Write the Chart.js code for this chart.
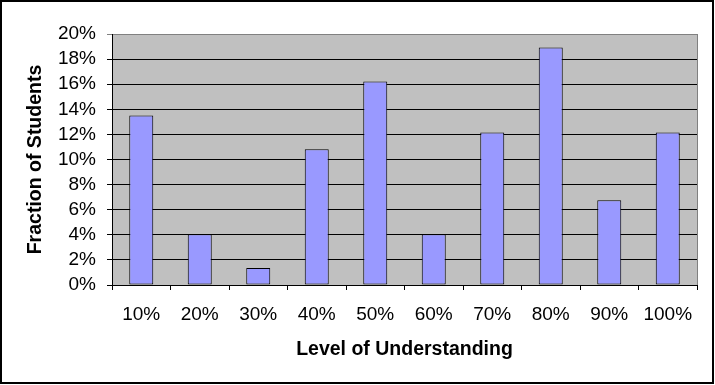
<!DOCTYPE html>
<html>
<head>
<meta charset="utf-8">
<script src="https://cdn.jsdelivr.net/npm/chart.js@4/dist/chart.umd.min.js"></script>
<style>
  html, body { margin: 0; padding: 0; background: #fff; }
  canvas { display: block; }
</style>
</head>
<body>
<canvas id="chartUnderstanding" width="715" height="385"></canvas>
<script>
const levels = ['10%', '20%', '30%', '40%', '50%', '60%', '70%', '80%', '90%', '100%'];
const fractions = [13.51, 4.05, 1.35, 10.81, 16.22, 4.05, 12.16, 18.92, 6.76, 12.16];
const yTicks = [0, 2, 4, 6, 8, 10, 12, 14, 16, 18, 20];

const fontFamily = "'Liberation Sans', Arial, sans-serif";

// white page, grey plot area, black frame round the picture
const excelLook = {
  id: 'excelLook',
  beforeDraw(chart) {
    const { ctx, chartArea: a } = chart;
    ctx.save();
    ctx.fillStyle = '#fff';
    ctx.fillRect(0, 0, chart.width, chart.height);
    ctx.fillStyle = '#c0c0c0';
    ctx.fillRect(a.left, a.top, a.right - a.left, a.bottom - a.top);
    ctx.restore();
  },
  afterDraw(chart) {
    const { ctx, chartArea: a } = chart;
    ctx.save();
    ctx.strokeStyle = '#808080';
    ctx.lineWidth = 1;
    ctx.beginPath();
    ctx.moveTo(Math.round(a.right) + 0.5, a.top);
    ctx.lineTo(Math.round(a.right) + 0.5, a.bottom);
    ctx.stroke();
    ctx.strokeStyle = '#000';
    ctx.lineWidth = 2;
    ctx.strokeRect(1, 1, 712, 382);
    ctx.restore();
  }
};

new Chart(document.getElementById('chartUnderstanding'), {
  type: 'bar',
  data: {
    labels: levels,
    datasets: [{
      label: 'Fraction of Students',
      data: fractions,
      backgroundColor: '#9999ff',
      borderColor: '#000',
      borderWidth: 1,
      borderSkipped: false,
      barPercentage: 0.41,
      categoryPercentage: 1
    }]
  },
  options: {
    responsive: false,
    animation: false,
    layout: { padding: { top: 34, right: 18, left: 0, bottom: 0 } },
    plugins: { legend: { display: false }, tooltip: { enabled: false } },
    scales: {
      x: {
        afterFit: s => { s.height = 100; },
        grid: { drawOnChartArea: false, offset: true, tickLength: 5, color: '#000' },
        border: { color: '#000', width: 1 },
        ticks: { color: '#000', padding: 13, maxRotation: 0, autoSkip: false, font: { family: fontFamily, size: 19 } },
        title: {
          display: true,
          text: 'Level of Understanding',
          color: '#000',
          padding: { top: 24, bottom: 24 },
          font: { family: fontFamily, size: 19.5, weight: 'bold' }
        }
      },
      y: {
        min: 0,
        max: 20,
        afterFit: s => { s.width = 112; },
        afterBuildTicks: s => { s.ticks = yTicks.map(v => ({ value: v })); },
        grid: {
          tickLength: 5,
          color: c => (c.tick && c.tick.value === 20 ? '#808080' : '#000')
        },
        border: { color: '#000', width: 1 },
        ticks: {
          color: '#000',
          padding: 11,
          autoSkip: false,
          font: { family: fontFamily, size: 19 },
          callback: v => v + '%'
        },
        title: {
          display: true,
          text: 'Fraction of Students',
          color: '#000',
          padding: { top: 24, bottom: 24 },
          font: { family: fontFamily, size: 19.5, weight: 'bold' }
        }
      }
    }
  },
  plugins: [excelLook]
});
</script>
</body>
</html>
